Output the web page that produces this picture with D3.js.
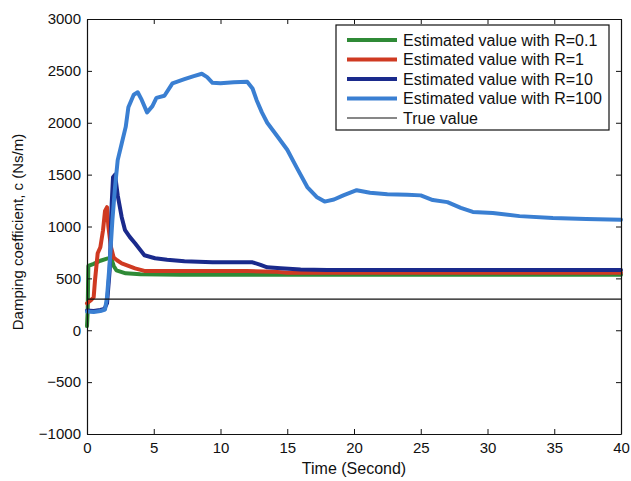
<!DOCTYPE html>
<html>
<head>
<meta charset="utf-8">
<script src="https://cdn.jsdelivr.net/npm/d3@7"></script>
<style>
  body { margin: 0; background: #fff; }
  svg { display: block; font-family: Arial, "Liberation Sans", Helvetica, sans-serif; }
</style>
</head>
<body>
<svg id="chart" width="631" height="481"></svg>
<script>
// Values: [time (s), damping coefficient (Ns/m)]
const xTicks = [0, 5, 10, 15, 20, 25, 30, 35, 40]
const yTicks = [-1000, -500, 0, 500, 1000, 1500, 2000, 2500, 3000]
const trueValue = 300

const r01 = [[0, 40], [0.05, 180], [0.1, 620], [0.5, 640], [1.0, 670], [1.5, 690],
  [1.8, 700], [2.0, 620], [2.2, 578], [2.9, 549], [4, 540], [7, 535], [40, 535]]

const r1 = [[0, 260], [0.3, 290], [0.5, 318], [0.6, 482], [0.8, 742], [1.0, 800],
  [1.2, 964], [1.35, 1150], [1.5, 1186], [1.6, 1000], [1.8, 800], [2.0, 700],
  [2.25, 675], [2.6, 645], [3.6, 597], [4.3, 572], [6, 570], [12, 570], [14, 565],
  [15, 555], [40, 555]]

const r10 = [[0, 190], [0.5, 185], [1.0, 195], [1.3, 205], [1.5, 260], [1.7, 580],
  [1.85, 1220], [1.95, 1475], [2.1, 1500], [2.3, 1300], [2.6, 1090], [2.85, 965],
  [3.2, 900], [3.6, 838], [4.3, 723], [5.1, 694], [6, 680], [7.3, 665], [9.4, 655],
  [12.4, 655], [13.0, 630], [13.5, 607], [14.5, 597], [16, 585], [18, 580], [40, 580]]

const r100 = [[0, 180], [0.5, 175], [1.0, 185], [1.35, 200], [1.5, 320], [1.7, 650],
  [1.9, 1060], [2.1, 1380], [2.3, 1640], [2.6, 1800], [2.9, 1960], [3.1, 2150],
  [3.5, 2270], [3.8, 2294], [4.1, 2220], [4.5, 2100], [4.9, 2160], [5.2, 2240],
  [5.8, 2260], [6.4, 2380], [7.3, 2420], [8.0, 2450], [8.6, 2472], [9.0, 2440],
  [9.4, 2385], [10.0, 2380], [11, 2390], [12.0, 2395], [12.4, 2330], [12.7, 2220],
  [13.1, 2100], [13.5, 2000], [14.2, 1880], [15.0, 1740], [15.7, 1570], [16.5, 1380],
  [17.2, 1285], [17.8, 1240], [18.5, 1260], [19.2, 1300], [20.2, 1350], [21.2, 1325],
  [22.5, 1310], [24, 1305], [25, 1300], [25.9, 1255], [27, 1235], [28, 1180],
  [28.9, 1140], [30.4, 1130], [32.4, 1100], [34.9, 1082], [37.4, 1072], [40, 1065]]

const seriesNames = ['Estimated value with R=0.1', 'Estimated value with R=1',
  'Estimated value with R=10', 'Estimated value with R=100', 'True value']
const seriesColors = ['#2f8a36', '#cf3a22', '#1a2a8c', '#3a7fd2', '#111']

const margin = { top: 19, right: 10, bottom: 47, left: 87 }
const svg = d3.select('#chart')
const width = +svg.attr('width') - margin.left - margin.right
const height = +svg.attr('height') - margin.top - margin.bottom

const x = d3.scaleLinear().domain([0, 40]).range([0, width])
const y = d3.scaleLinear().domain([-1000, 3000]).range([height, 0])

const g = svg.append('g').attr('transform', `translate(${margin.left},${margin.top})`)

const line = d3.line().x(d => x(d[0])).y(d => y(d[1]))

// estimated curves, drawn in legend order so R=100 ends on top
const estimates = [r01, r1, r10, r100]
estimates.forEach((data, i) => {
  g.append('path')
    .datum(data)
    .attr('d', line)
    .attr('fill', 'none')
    .attr('stroke', seriesColors[i])
    .attr('stroke-width', 4)
    .attr('stroke-linejoin', 'round')
    .attr('stroke-linecap', 'round')
})

// true value
g.append('path')
  .datum([[0, trueValue], [40, trueValue]])
  .attr('d', line)
  .attr('fill', 'none')
  .attr('stroke', seriesColors[4])
  .attr('stroke-width', 1.1)

// axes, MATLAB style box with inward ticks
const styleAxis = sel => {
  sel.select('.domain').attr('stroke', '#111').attr('stroke-width', 1.2)
  sel.selectAll('.tick line').attr('stroke', '#111')
  sel.selectAll('.tick text').attr('fill', '#111').style('font-size', '15px')
}

g.append('g')
  .attr('transform', `translate(0,${height})`)
  .call(d3.axisBottom(x).tickValues(xTicks).tickSize(-5).tickPadding(8).tickSizeOuter(0))
  .call(styleAxis)

g.append('g')
  .call(d3.axisLeft(y).tickValues(yTicks).tickSize(-5).tickPadding(6).tickSizeOuter(0)
    .tickFormat(d => d < 0 ? '\u2212' + Math.abs(d) : d))
  .call(styleAxis)

g.append('g')
  .call(d3.axisTop(x).tickValues(xTicks).tickSize(-5).tickSizeOuter(0).tickFormat(''))
  .call(styleAxis)

g.append('g')
  .attr('transform', `translate(${width},0)`)
  .call(d3.axisRight(y).tickValues(yTicks).tickSize(-5).tickSizeOuter(0).tickFormat(''))
  .call(styleAxis)

// axis labels
svg.append('text')
  .attr('x', margin.left + width / 2)
  .attr('y', 474)
  .attr('text-anchor', 'middle')
  .style('font-size', '16px')
  .attr('fill', '#111')
  .text('Time (Second)')

svg.append('text')
  .attr('transform', `translate(23,${margin.top + 213}) rotate(-90)`)
  .attr('text-anchor', 'middle')
  .style('font-size', '15px')
  .attr('fill', '#111')
  .text('Damping coefficient, c (Ns/m)')

// legend
const legend = svg.append('g').attr('transform', 'translate(336,25)')
legend.append('rect')
  .attr('width', 273)
  .attr('height', 105)
  .attr('fill', '#fff')
  .attr('stroke', '#111')
  .attr('stroke-width', 1.2)

seriesNames.forEach((name, i) => {
  const row = legend.append('g').attr('transform', `translate(0,${15 + i * 19.5})`)
  row.append('line')
    .attr('x1', 11).attr('x2', 61)
    .attr('stroke', seriesColors[i])
    .attr('stroke-width', i < 4 ? 4 : 1.1)
  row.append('text')
    .attr('x', 67)
    .attr('dy', '0.35em')
    .style('font-size', '16px')
    .attr('fill', '#111')
    .text(name)
})
</script>
</body>
</html>
